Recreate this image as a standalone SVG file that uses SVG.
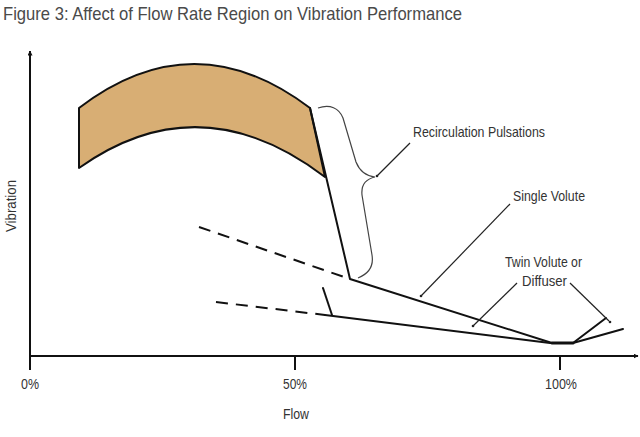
<svg xmlns="http://www.w3.org/2000/svg" width="640" height="437" viewBox="0 0 640 437">
<style>
text{font-family:"Liberation Sans",Arial,sans-serif;fill:#333}
.lbl{font-size:14.5px}
.tick{font-size:15px}
.curve{fill:none;stroke:#111;stroke-width:2;stroke-linecap:round;stroke-linejoin:round}
.dash{fill:none;stroke:#111;stroke-width:2;stroke-dasharray:12 8}
.axis{fill:none;stroke:#111;stroke-width:2}
.leader{fill:none;stroke:#222;stroke-width:1.2}
.brace{fill:none;stroke:#444;stroke-width:1.2}
</style>
<defs>
<marker id="arr" viewBox="0 0 10 10" refX="9" refY="5" markerWidth="5" markerHeight="5" orient="auto" markerUnits="userSpaceOnUse">
<path d="M0,0 L10,5 L0,10 z" fill="#111"/>
</marker>
</defs>
<rect width="640" height="437" fill="#fff"/>
<text id="title" x="3" y="19.5" font-size="18.5" textLength="459" lengthAdjust="spacingAndGlyphs" style="fill:#4a4a4a">Figure 3: Affect of Flow Rate Region on Vibration Performance</text>

<g id="axes">
<line class="axis" x1="30" y1="370" x2="30" y2="51" marker-end="url(#arr)"/>
<line class="axis" x1="29" y1="356" x2="638" y2="356" marker-end="url(#arr)"/>
<line class="axis" x1="295" y1="356" x2="295" y2="370"/>
<line class="axis" x1="560" y1="356" x2="560" y2="370"/>
<text class="tick" x="30" y="389" text-anchor="middle" textLength="18" lengthAdjust="spacingAndGlyphs">0%</text>
<text class="tick" x="295" y="389" text-anchor="middle" textLength="24" lengthAdjust="spacingAndGlyphs">50%</text>
<text class="tick" x="561" y="389" text-anchor="middle" textLength="32" lengthAdjust="spacingAndGlyphs">100%</text>
<text class="tick" x="296" y="419" text-anchor="middle" textLength="26" lengthAdjust="spacingAndGlyphs">Flow</text>
<text class="lbl" transform="translate(16,206) rotate(-90)" text-anchor="middle" textLength="52" lengthAdjust="spacingAndGlyphs">Vibration</text>
</g>

<g id="recirculation-region">
<path d="M79,108 Q194,20 310,108 L325,177 Q200,82 79,168 Z" fill="#D8AE74" stroke="#111" stroke-width="2" stroke-linejoin="round"/>
</g>

<g id="connectors">
<path class="curve" d="M310,108 L350,279 L552,343 L573,343 L606,318"/>
<path class="curve" d="M325,315 L550,343 L573,343 L623,329"/>
<line class="curve" x1="323" y1="288" x2="332" y2="315"/>
<line class="dash" x1="199" y1="227" x2="350" y2="279"/>
<line class="dash" x1="216" y1="302" x2="325" y2="315"/>
<path class="curve" d="M552,343 L573,343" style="stroke-width:3"/>
<path class="brace" d="M318,108 C330,104 339,108 343,118 L356,162 C360,172 366,176 375,177 C366,179 361,185 362,195 L372,255 C374,267 368,274 358,278"/>
<line class="leader" x1="377" y1="176" x2="410" y2="143"/>
<line class="leader" x1="510" y1="204" x2="421" y2="296"/>
<line class="leader" x1="517" y1="283" x2="473" y2="326"/>
<line class="leader" x1="570" y1="283" x2="609" y2="321"/>
<circle cx="377" cy="176" r="1.3" fill="#222"/>
<circle cx="421" cy="296" r="1.3" fill="#222"/>
<circle cx="473" cy="326" r="1.3" fill="#222"/>
<circle cx="610" cy="322" r="1.3" fill="#222"/>
</g>

<g id="label-recirculation"><text class="lbl" x="413" y="137" textLength="132" lengthAdjust="spacingAndGlyphs">Recirculation Pulsations</text></g>
<g id="label-single"><text class="lbl" x="513" y="201" textLength="72" lengthAdjust="spacingAndGlyphs">Single Volute</text></g>
<g id="label-twin">
<text class="lbl" x="505" y="267" textLength="77" lengthAdjust="spacingAndGlyphs">Twin Volute or</text>
<text class="lbl" x="522" y="286" textLength="45" lengthAdjust="spacingAndGlyphs">Diffuser</text>
</g>
</svg>
